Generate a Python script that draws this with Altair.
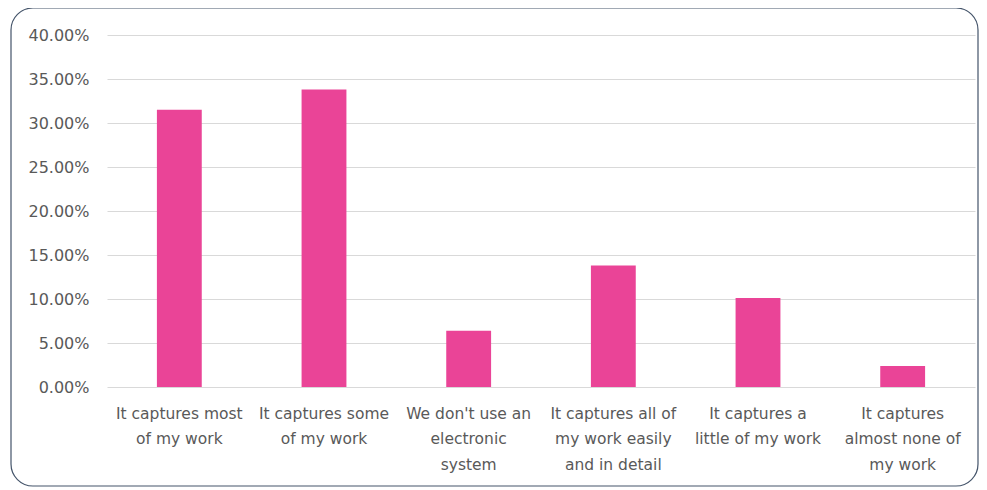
import altair as alt
import pandas as pd

categories = [
    "It captures most|of my work",
    "It captures some|of my work",
    "We don't use an|electronic|system",
    "It captures all of|my work easily|and in detail",
    "It captures a|little of my work",
    "It captures|almost none of|my work",
]
values = [0.315, 0.338, 0.064, 0.138, 0.101, 0.024]
y_ticks = [0, 0.05, 0.10, 0.15, 0.20, 0.25, 0.30, 0.35, 0.40]

df = pd.DataFrame({"cat": categories, "val": values})

FONT = "DejaVu Sans"
TXT = "#595959"

bars = alt.Chart(df).mark_bar(color="#EA4497").encode(
    x=alt.X(
        "cat:N",
        sort=None,
        title=None,
        scale=alt.Scale(paddingInner=0.69, paddingOuter=0.345),
        axis=alt.Axis(
            labelExpr="split(datum.label, '|')",
            labelAngle=0,
            labelFont=FONT,
            labelFontSize=15.5,
            labelColor=TXT,
            labelLineHeight=25.5,
            labelPadding=26,
            labelBaseline="middle",
            ticks=False,
            domain=False,
            grid=False,
            labelLimit=200,
        ),
    ),
    y=alt.Y(
        "val:Q",
        title=None,
        scale=alt.Scale(domain=[0, 0.4], nice=False),
        axis=alt.Axis(
            values=y_ticks,
            format=".2%",
            labelFont=FONT,
            labelFontSize=16,
            labelColor=TXT,
            labelPadding=18,
            ticks=False,
            domain=False,
            gridColor="#D9D9D9",
            gridWidth=1,
        ),
    ),
)

border = alt.Chart(pd.DataFrame({"a": [0]})).mark_rect(
    fill=None, stroke="#44546A", strokeWidth=1.2, cornerRadius=22
).encode(
    x=alt.value(-96), x2=alt.value(871), y=alt.value(-27), y2=alt.value(451)
)

chart = alt.layer(border, bars).properties(
    width=868,
    height=352,
    autosize=alt.AutoSizeParams(type="none"),
    padding={"left": 99, "top": 27, "right": 4, "bottom": 100},
    background="white",
).configure_view(stroke=None)

chart.save("out.html", embed_options={"renderer": "svg", "actions": False})
